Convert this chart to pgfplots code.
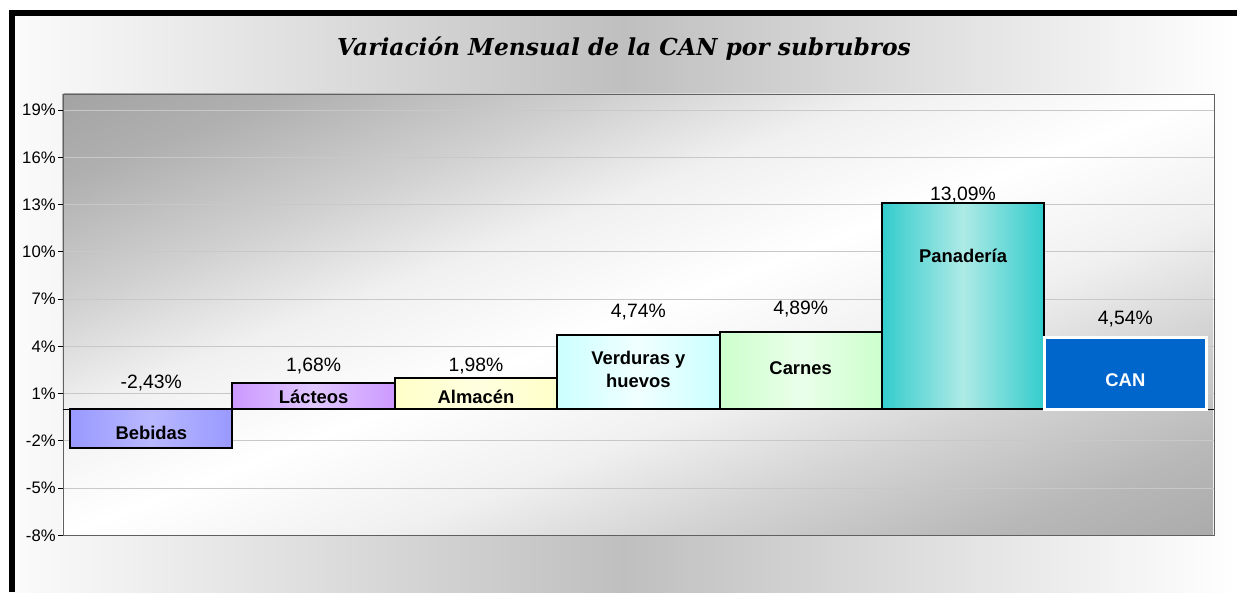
\documentclass[border=0pt]{standalone}
\usepackage{pgfplots}
\pgfplotsset{compat=1.18}
\usepackage{fontspec}
\setmainfont{Liberation Sans}
\newfontfamily\titlefont{DejaVu Serif}
\definecolor{bebA}{HTML}{9999FF}
\definecolor{bebB}{HTML}{B8B8FF}
\definecolor{lacA}{HTML}{CC99FF}
\definecolor{lacB}{HTML}{E0C8FF}
\definecolor{almA}{HTML}{FFFFC8}
\definecolor{almB}{HTML}{FFFFE0}
\definecolor{verA}{HTML}{CCFFFF}
\definecolor{verB}{HTML}{F0FFFF}
\definecolor{carA}{HTML}{CCFFCC}
\definecolor{carB}{HTML}{EAFFEA}
\definecolor{panA}{HTML}{33CCCC}
\definecolor{panB}{HTML}{AEEAE6}
\definecolor{canC}{HTML}{0066CC}
\definecolor{gridc}{HTML}{C8C8C8}
\definecolor{sgA}{HTML}{ABABAB}
\definecolor{sgB}{HTML}{B8B8B8}
\definecolor{sgC}{HTML}{D4D4D4}
\definecolor{sgD}{HTML}{F0F0F0}
\definecolor{sgE}{HTML}{D0D0D0}
\definecolor{sgF}{HTML}{B0B0B0}
\definecolor{sgG}{HTML}{A3A3A3}
\pgfdeclareverticalshading{plotbg}{100bp}{color(0bp)=(sgA); color(25bp)=(sgA); color(30bp)=(sgB); color(37bp)=(sgC); color(43bp)=(sgD); color(50bp)=(white); color(57bp)=(sgD); color(63bp)=(sgE); color(70bp)=(sgF); color(75bp)=(sgG); color(100bp)=(sgG)}
\begin{document}
\begin{tikzpicture}[x=1pt,y=1pt]
\useasboundingbox (0,0) rectangle (927.75,444);
\fill[white] (0,0) rectangle (927.75,444);
\shade[left color=white!97!gray, right color=white, middle color=gray!50] (9,0) rectangle (927.75,434.25);
\draw[line width=4.8pt, line join=miter] (8.8,0) -- (8.8,434.25) -- (927.75,434.25);
\node[font=\titlefont\bfseries\itshape\fontsize{17.5}{17.5}\selectfont] at (468,407.5) {Variación Mensual de la CAN por subrubros};
% plot-area background gradient
\begin{scope}
\clip (46.5,42.75) rectangle (909.75,373.5);
\shade[shading=plotbg, transform canvas={rotate around={21:(478.125,208.125)}}] (8.125,-100.875) rectangle (948.125,517.125);
\end{scope}
\begin{axis}[
  at={(39,36)}, anchor=south west, scale only axis,
  width=863.25pt, height=330.75pt,
  xmin=-0.542, xmax=6.548, ymin=-8, ymax=20,
  ytick={-8,-5,-2,1,4,7,10,13,16,19},
  yticklabels={-8\%,-5\%,-2\%,1\%,4\%,7\%,10\%,13\%,16\%,19\%},
  xtick=\empty,
  ymajorgrids, major grid style={color=gridc, line width=0.8pt},
  axis line style={gray!75!black, line width=1pt},
  ytick pos=left, tick align=outside, major tick length=3.75pt,
  tick style={black, line width=0.75pt},
  yticklabel style={font=\fontsize{12.5}{12.5}\selectfont, xshift=1.5pt},
  extra y ticks={0}, extra y tick labels={},
  extra y tick style={major tick length=0pt, grid=major, major grid style={black, line width=1pt}},
  clip=false,
]
\addplot[ybar, bar width=1, bar shift=0pt, draw=black, line width=1.5pt, left color=bebA, right color=bebA, middle color=bebB] coordinates {(0,-2.43)};
\addplot[ybar, bar width=1, bar shift=0pt, draw=black, line width=1.5pt, left color=lacA, right color=lacA, middle color=lacB] coordinates {(1,1.68)};
\addplot[ybar, bar width=1, bar shift=0pt, draw=black, line width=1.5pt, left color=almA, right color=almA, middle color=almB] coordinates {(2,1.98)};
\addplot[ybar, bar width=1, bar shift=0pt, draw=black, line width=1.5pt, left color=verA, right color=verA, middle color=verB] coordinates {(3,4.74)};
\addplot[ybar, bar width=1, bar shift=0pt, draw=black, line width=1.5pt, left color=carA, right color=carA, middle color=carB] coordinates {(4,4.89)};
\addplot[ybar, bar width=1, bar shift=0pt, draw=black, line width=1.5pt, left color=panA, right color=panA, middle color=panB] coordinates {(5,13.09)};
\addplot[ybar, bar width=1, bar shift=0pt, draw=white, line width=2pt, fill=canC] coordinates {(6,4.54)};
% value labels
\begin{scope}[every node/.style={font=\fontsize{14.5}{14.5}\selectfont}]
\node at (axis cs:0,1.70) {-2,43\%};
\node at (axis cs:1,2.78) {1,68\%};
\node at (axis cs:2,2.78) {1,98\%};
\node at (axis cs:3,6.15) {4,74\%};
\node at (axis cs:4,6.34) {4,89\%};
\node at (axis cs:5,13.59) {13,09\%};
\node at (axis cs:6,5.70) {4,54\%};
\end{scope}
% category labels
\begin{scope}[every node/.style={font=\bfseries\fontsize{13.8}{17}\selectfont, align=center}]
\node at (axis cs:0,-1.48) {Bebidas};
\node at (axis cs:1,0.81) {Lácteos};
\node at (axis cs:2,0.81) {Almacén};
\node at (axis cs:3,2.53) {Verduras y\\huevos};
\node at (axis cs:4,2.59) {Carnes};
\node at (axis cs:5,9.77) {Panadería};
\node[text=white] at (axis cs:6,1.83) {CAN};
\end{scope}
\end{axis}
\end{tikzpicture}
\end{document}
